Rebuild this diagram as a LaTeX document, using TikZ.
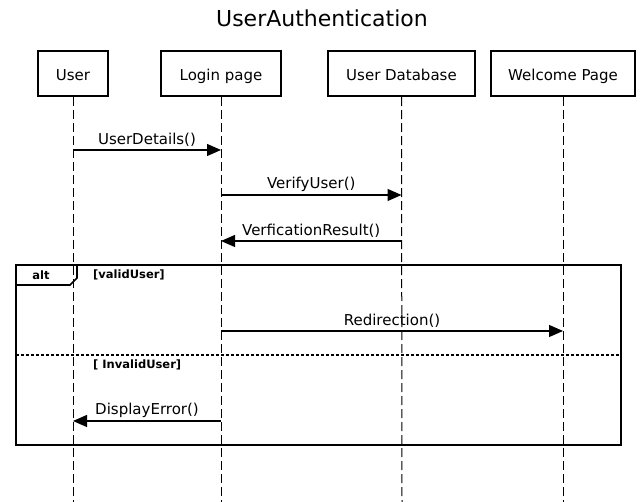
\documentclass[tikz,border=0pt]{standalone}
\usepackage{fontspec}
\setmainfont{DejaVu Sans}
\usepackage{tikz}
\usetikzlibrary{
    arrows.meta,
    calc
}

\tikzset{
    actor/.style={draw, line width=2.2pt, minimum height=45pt, inner sep=0pt,
        text height=15pt, text depth=0pt, font=\fontsize{15}{17}\selectfont},
    lifeline/.style={line width=1pt, dash pattern=on 9pt off 4pt},
    msg/.style={line width=1.2pt, -{Triangle[length=14pt, width=12pt]}},
    msglabel/.style={font=\fontsize{15}{17}\selectfont, inner sep=1pt},
    guard/.style={font=\bfseries\fontsize{11.5}{13}\selectfont, anchor=west, inner sep=0pt},
}

\begin{document}
\begin{tikzpicture}[x=1pt, y=1pt]
            \useasboundingbox (0,0) rectangle (643,502);

            % Title
            \node (title) at (322,484) {\fontsize{22}{26}\selectfont UserAuthentication};

            % Participants
            \node[actor, minimum width=70pt] (user) at (73,428.5) {User};
            \node[actor, minimum width=120pt] (login) at (221,428.5) {Login page};
            \node[actor, minimum width=147pt] (db) at (401.5,428.5) {User Database};
            \node[actor, minimum width=144pt] (welcome) at (563,428.5) {Welcome Page};

            % Lifelines
            \coordinate (userend) at (73,0);
            \coordinate (loginend) at (221,0);
            \coordinate (dbend) at (402,0);
            \coordinate (welcomeend) at (563,0);
            \draw[lifeline] (user.south) -- (userend);
            \draw[lifeline] (login.south) -- (loginend);
            \draw[lifeline] (db.south) -- (dbend);
            \draw[lifeline] (welcome.south) -- (welcomeend);

            % Messages
            \draw[msg] (user |- 0,352) -- (login |- 0,352)
                node[msglabel, midway, above=2pt] {UserDetails()};
            \draw[msg] (login |- 0,307) -- (db |- 0,307)
                node[msglabel, midway, above=2pt] {VerifyUser()};
            \draw[msg] (db |- 0,261) -- (login |- 0,261)
                node[msglabel, midway, above=2pt] {VerficationResult()};
            \draw[msg] (login |- 0,171) -- (welcome |- 0,171)
                node[msglabel, midway, above=2pt] {Redirection()};
            \draw[msg] (login |- 0,81) -- (user |- 0,81)
                node[msglabel, midway, above=2pt] {DisplayError()};

            % Alt frame
            \draw[line width=2.2pt] (16,237) rectangle (621,57);
            \draw[line width=1.6pt] (16,217) -- (70,217) -- (77,224) -- (77,237);
            \node[guard, anchor=center] (alt) at (41,227) {alt};
            \node[guard] (valid) at (93,227) {[validUser]};
            \draw[line width=1.5pt, dash pattern=on 3pt off 2pt] (16,147) -- (621,147);
            \node[guard] (invalid) at (93,137) {[ InvalidUser]};
        \end{tikzpicture}
\end{document}
